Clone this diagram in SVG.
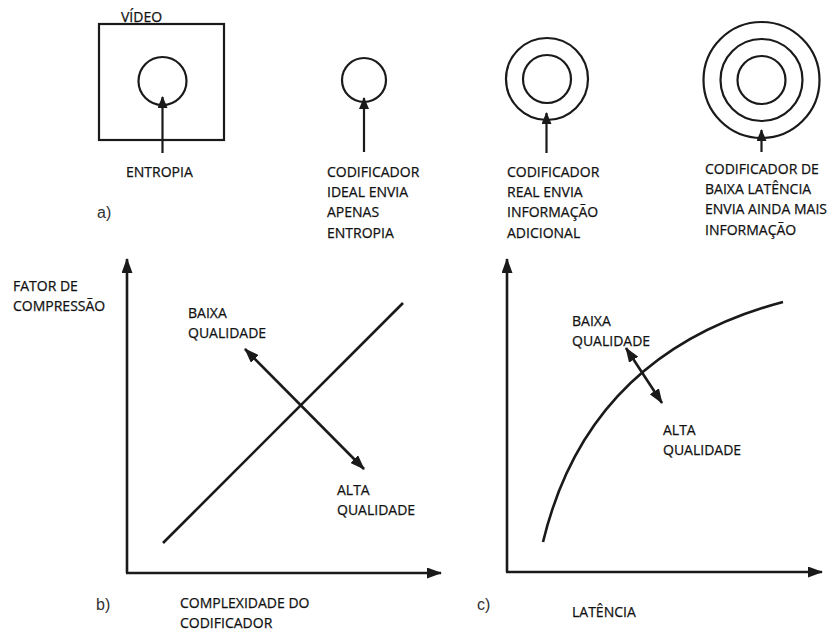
<svg xmlns="http://www.w3.org/2000/svg" width="839" height="631" viewBox="0 0 839 631">
<defs>
<style>
.t{font-family:"Open Sans","Liberation Sans",sans-serif;font-size:14px;fill:#111;stroke:#111;stroke-width:0.25}
.p{font-family:"Liberation Sans",Arial,sans-serif;font-size:16px;fill:#333}
.s{fill:none;stroke:#1a1a1a;stroke-width:2.2}
.ax{fill:none;stroke:#1a1a1a;stroke-width:2.6}
.ar{fill:none;stroke:#1a1a1a;stroke-width:2.2;marker-end:url(#ah)}
.da{fill:none;stroke:#1a1a1a;stroke-width:2.6;marker-start:url(#ah2);marker-end:url(#ah2)}
</style>
<marker id="ah" markerUnits="userSpaceOnUse" markerWidth="12" markerHeight="10" refX="11" refY="5" orient="auto"><path d="M0,0 L12,5 L0,10 z" fill="#1a1a1a"/></marker>
<marker id="ah2" markerUnits="userSpaceOnUse" markerWidth="15" markerHeight="11" refX="14" refY="5.5" orient="auto-start-reverse"><path d="M0,0 L15,5.5 L0,11 z" fill="#1a1a1a"/></marker>
<marker id="axh" markerUnits="userSpaceOnUse" markerWidth="15" markerHeight="11" refX="14" refY="5.5" orient="auto"><path d="M0,0 L15,5.5 L0,11 z" fill="#1a1a1a"/></marker>
</defs>
<rect width="839" height="631" fill="#fff"/>

<g id="video">
<rect class="s" x="99" y="24" width="125" height="116"/>
<text class="t" x="121" y="22">VÍDEO</text>
<circle class="s" cx="162.5" cy="81" r="24"/>
<text class="t" x="126" y="177">ENTROPIA</text>
</g>
<g id="ideal">
<circle class="s" cx="364" cy="80" r="22"/>
<text class="t" x="327" y="177">CODIFICADOR</text>
<text class="t" x="327" y="197">IDEAL ENVIA</text>
<text class="t" x="327" y="217">APENAS</text>
<text class="t" x="327" y="238">ENTROPIA</text>
</g>
<g id="real">
<circle class="s" cx="547" cy="79" r="41"/>
<circle class="s" cx="547" cy="79" r="24"/>
<text class="t" x="507" y="177">CODIFICADOR</text>
<text class="t" x="507" y="197">REAL ENVIA</text>
<text class="t" x="507" y="217">INFORMAÇÃO</text>
<text class="t" x="507" y="238">ADICIONAL</text>
</g>
<g id="baixa-latencia">
<circle class="s" cx="761.5" cy="80" r="58"/>
<circle class="s" cx="761.5" cy="80" r="41"/>
<circle class="s" cx="761.5" cy="80" r="24"/>
<text class="t" x="705" y="174">CODIFICADOR DE</text>
<text class="t" x="705" y="194">BAIXA LATÊNCIA</text>
<text class="t" x="705" y="214">ENVIA AINDA MAIS</text>
<text class="t" x="705" y="235">INFORMAÇÃO</text>
</g>
<text class="p" x="97" y="218">a)</text>

<g id="graph-b">
<text class="t" x="13" y="291">FATOR DE</text>
<text class="t" x="13" y="311">COMPRESSÃO</text>
<text class="t" x="188" y="318">BAIXA</text>
<text class="t" x="188" y="338">QUALIDADE</text>
<text class="t" x="337" y="495">ALTA</text>
<text class="t" x="337" y="515">QUALIDADE</text>
<text class="p" x="96" y="610">b)</text>
<text class="t" x="180" y="608">COMPLEXIDADE DO</text>
<text class="t" x="180" y="628">CODIFICADOR</text>
<path class="ax" d="M163,543 L403,303"/>
</g>

<g id="graph-c">
<text class="t" x="572" y="326">BAIXA</text>
<text class="t" x="572" y="346">QUALIDADE</text>
<text class="t" x="663" y="435">ALTA</text>
<text class="t" x="663" y="455">QUALIDADE</text>
<text class="p" x="477" y="610">c)</text>
<text class="t" x="572" y="617">LATÊNCIA</text>
<path class="ax" d="M543,542 C570,430 640,340 783,302"/>
</g>

<g id="connectors">
<path class="ar" d="M162.5,153 L162.5,97"/>
<path class="ar" d="M364,152 L364,98"/>
<path class="ar" d="M546.5,153 L546.5,113"/>
<path class="ar" d="M761.5,152 L761.5,130"/>
<path class="ax" style="marker-end:url(#axh)" d="M127,573 L127,259"/>
<path class="ax" style="marker-end:url(#axh)" d="M126,573 L441,573"/>
<path class="ax" style="marker-end:url(#axh)" d="M507,572 L507,259"/>
<path class="ax" style="marker-end:url(#axh)" d="M506,572 L822,572"/>
<path class="da" d="M245,349 L364,469"/>
<path class="da" d="M626,348 L662,403"/>
</g>
</svg>
